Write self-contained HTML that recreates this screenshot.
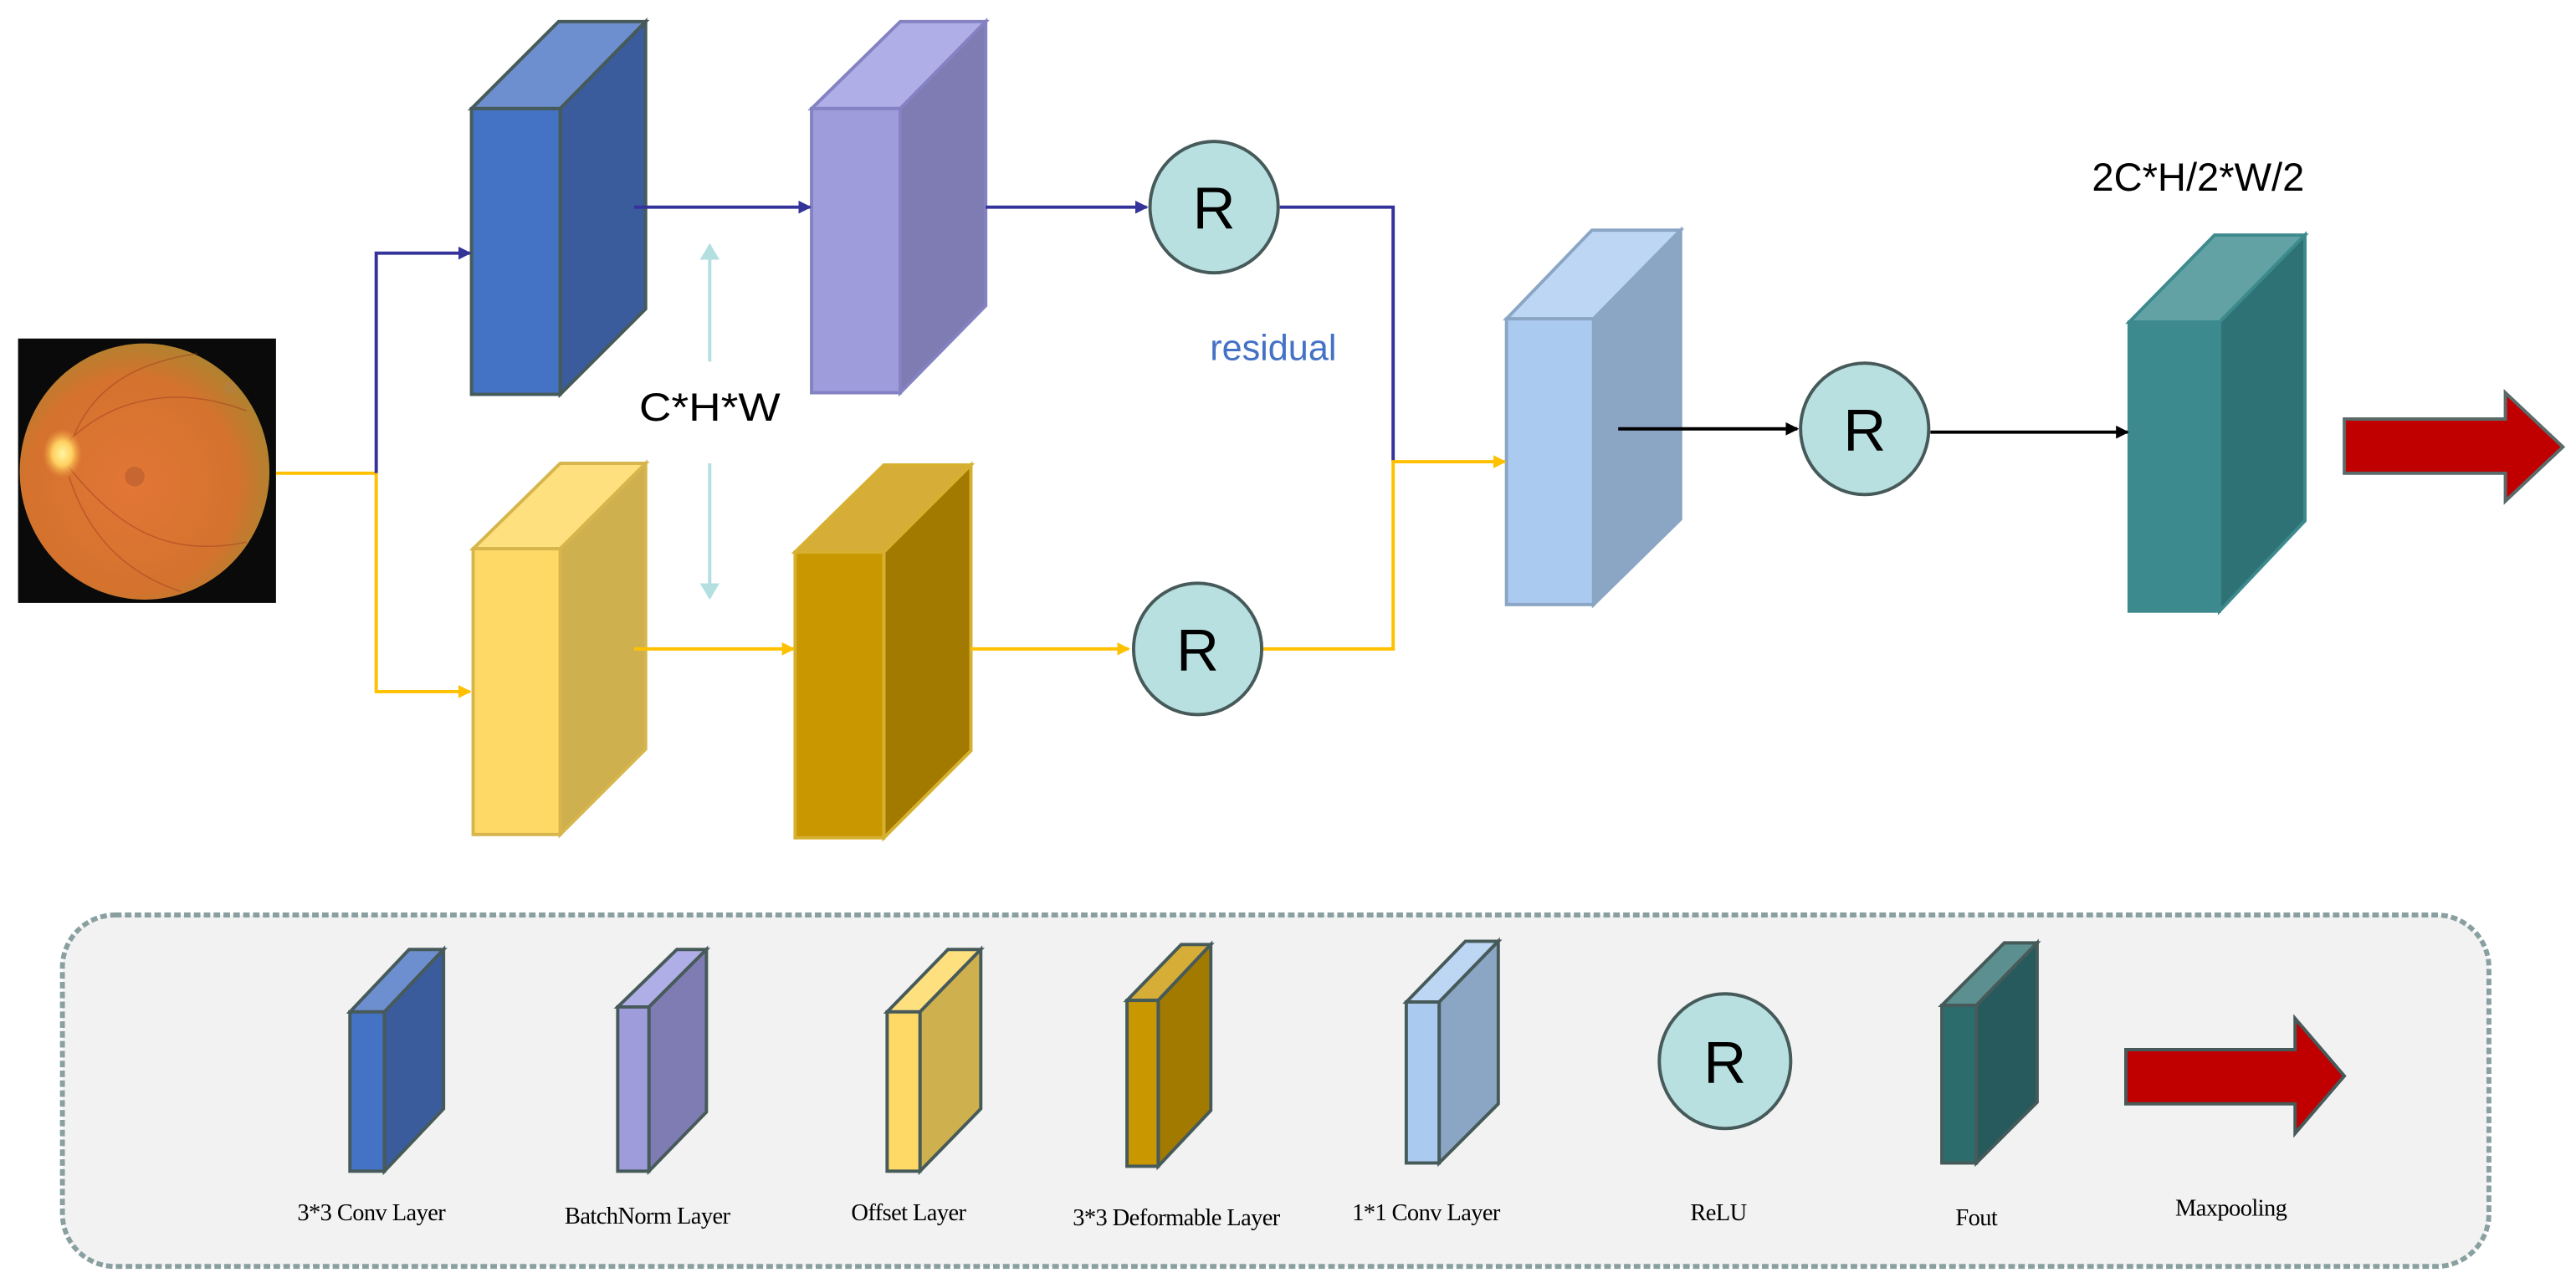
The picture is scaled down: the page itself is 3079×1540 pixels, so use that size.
<!DOCTYPE html>
<html><head><meta charset="utf-8"><style>html,body{margin:0;padding:0;background:#fff}svg{display:block}</style></head>
<body>
<svg width="3079" height="1540" viewBox="0 0 1568 784" xmlns="http://www.w3.org/2000/svg" font-family="Liberation Sans, sans-serif">
<defs>
<radialGradient id="eye" cx="0.45" cy="0.55" r="0.6">
<stop offset="0" stop-color="#e27636"/><stop offset="0.7" stop-color="#d4722e"/><stop offset="1" stop-color="#a8862f"/>
</radialGradient>
<radialGradient id="disc" cx="0.5" cy="0.5" r="0.5"><stop offset="0" stop-color="#fff6a0"/><stop offset="0.5" stop-color="#ffd060"/><stop offset="1" stop-color="#f0a040" stop-opacity="0"/></radialGradient>
<marker id="ab" markerWidth="8" markerHeight="8" refX="7" refY="4" orient="auto" markerUnits="userSpaceOnUse"><path d="M0,0 L8,4 L0,8z" fill="#33339a"/></marker>
<marker id="ay" markerWidth="8" markerHeight="8" refX="7" refY="4" orient="auto" markerUnits="userSpaceOnUse"><path d="M0,0 L8,4 L0,8z" fill="#FFC000"/></marker>
<marker id="ak" markerWidth="8" markerHeight="8" refX="7" refY="4" orient="auto" markerUnits="userSpaceOnUse"><path d="M0,0 L8,4 L0,8z" fill="#000"/></marker>
<marker id="al" markerWidth="10" markerHeight="12" refX="9" refY="6" orient="auto" markerUnits="userSpaceOnUse"><path d="M0,0 L10,6 L0,12z" fill="#b4dfe0"/></marker>
</defs>

<!-- fundus -->
<rect x="11" y="206" width="157" height="161" fill="#0a0a0a"/>
<ellipse cx="88" cy="287" rx="76" ry="78" fill="url(#eye)"/>
<circle cx="140" cy="236" r="4" fill="#b5803a"/>
<path d="M40,270 C70,240 110,235 150,250 M40,282 C70,320 100,340 150,330 M45,265 C60,230 90,220 120,215 M42,290 C55,330 80,350 110,360" stroke="#9a3a20" stroke-width="0.8" fill="none" opacity="0.45"/>
<ellipse cx="38" cy="276" rx="12" ry="15" fill="url(#disc)"/>
<circle cx="82" cy="290" r="6" fill="#a0502a" opacity="0.4"/>

<!-- blocks -->
<g stroke-width="2" stroke-linejoin="miter">
<polygon points="287,66 340,13 393,13 341,66" fill="#6D8FD0" stroke="#475a5a"/>
<polygon points="341,66 393,13 393,188 341,240" fill="#3A5B9C" stroke="#475a5a"/>
<rect x="287" y="66" width="54" height="174" fill="#4472C4" stroke="#475a5a"/>
<polygon points="494,66 548,13 600,13 548,66" fill="#B0AEE6" stroke="#8482C2"/>
<polygon points="548,66 600,13 600,186 548,239" fill="#7E7CB2" stroke="#8482C2"/>
<rect x="494" y="66" width="54" height="173" fill="#9E9CDB" stroke="#8482C2"/>
<polygon points="288,334 341,282 393,282 341,334" fill="#FFE07F" stroke="#D6B64C"/>
<polygon points="341,334 393,282 393,456 341,508" fill="#CFB04F" stroke="#D6B64C"/>
<rect x="288" y="334" width="53" height="174" fill="#FFD966" stroke="#D6B64C"/>
<polygon points="484,336 538,283 591,283 538,336" fill="#D6AD36" stroke="#D6B030"/>
<polygon points="538,336 591,283 591,457 538,510" fill="#A37A00" stroke="#D6B030"/>
<rect x="484" y="336" width="54" height="174" fill="#C99700" stroke="#D6B030"/>
<polygon points="917,194 969,140 1023,140 970,194" fill="#BCD6F3" stroke="#8AA6C4"/>
<polygon points="970,194 1023,140 1023,316 970,368" fill="#8AA6C4" stroke="#8AA6C4"/>
<rect x="917" y="194" width="53" height="174" fill="#ABCAF0" stroke="#8AA6C4"/>
<polygon points="1296,196 1348,143 1403,143 1351,196" fill="#62A2A5" stroke="#3d8a8e"/>
<polygon points="1351,196 1403,143 1403,317 1351,372" fill="#2F7275" stroke="#3d8a8e"/>
<rect x="1296" y="196" width="55" height="176" fill="#3D8A8E" stroke="#3d8a8e"/>
</g>

<!-- connectors -->
<g stroke-width="2" fill="none">
<path d="M168,288 H229" stroke="#FFC000"/>
<path d="M229,288 V154 H286" stroke="#33339a" marker-end="url(#ab)"/>
<path d="M229,288 V421 H286" stroke="#FFC000" marker-end="url(#ay)"/>
<path d="M386,126 H493" stroke="#33339a" marker-end="url(#ab)"/>
<path d="M600,126 H698" stroke="#33339a" marker-end="url(#ab)"/>
<path d="M779,126 H848 V281" stroke="#33339a"/>
<path d="M386,395 H483" stroke="#FFC000" marker-end="url(#ay)"/>
<path d="M591,395 H687" stroke="#FFC000" marker-end="url(#ay)"/>
<path d="M769,395 H848 V281 H916" stroke="#FFC000" marker-end="url(#ay)"/>
<path d="M985,261 H1094" stroke="#000" marker-end="url(#ak)"/>
<path d="M1175,263 H1295" stroke="#000" marker-end="url(#ak)"/>
<path d="M432,220 V149" stroke="#b4dfe0" marker-end="url(#al)"/>
<path d="M432,282 V364" stroke="#b4dfe0" marker-end="url(#al)"/>
</g>

<!-- R circles -->
<g fill="#B9E0E0" stroke="#475a5a" stroke-width="2">
<ellipse cx="739" cy="126" rx="39" ry="40"/>
<ellipse cx="729" cy="395" rx="39" ry="40"/>
<ellipse cx="1135" cy="261" rx="39" ry="40"/>
</g>
<g font-size="36" text-anchor="middle" fill="#000">
<text x="739" y="139">R</text>
<text x="729" y="408">R</text>
<text x="1135" y="274">R</text>
</g>

<text x="432" y="256" font-size="24" text-anchor="middle" textLength="86" lengthAdjust="spacingAndGlyphs">C*H*W</text>
<text x="775" y="219" font-size="22" text-anchor="middle" fill="#4472C4">residual</text>
<text x="1338" y="116" font-size="24" text-anchor="middle">2C*H/2*W/2</text>

<polygon points="1427,255 1525,255 1525,239 1560,272 1525,305 1525,288 1427,288" fill="#C00000" stroke="#5a6a6a" stroke-width="2"/>

<!-- legend -->
<rect x="38" y="557" width="1477" height="214" rx="32" fill="#f2f2f2" stroke="#8aa0a0" stroke-width="3" stroke-dasharray="4,2"/>
<g stroke="#475a5a" stroke-width="2">
<polygon points="213,616 249,578 270,578 234,616" fill="#6D8FD0"/><polygon points="234,616 270,578 270,675 234,713" fill="#3A5B9C"/><rect x="213" y="616" width="21" height="97" fill="#4472C4"/>
<polygon points="376,613 412,578 430,578 395,613" fill="#B0AEE6"/><polygon points="395,613 430,578 430,677 395,713" fill="#7E7CB2"/><rect x="376" y="613" width="19" height="100" fill="#9E9CDB"/>
<polygon points="540,616 577,578 597,578 560,616" fill="#FFE07F"/><polygon points="560,616 597,578 597,675 560,713" fill="#CFB04F"/><rect x="540" y="616" width="20" height="97" fill="#FFD966"/>
<polygon points="686,609 719,575 737,575 705,609" fill="#D6AD36"/><polygon points="705,609 737,575 737,676 705,710" fill="#A37A00"/><rect x="686" y="609" width="19" height="101" fill="#C99700"/>
<polygon points="856,610 892,573 912,573 876,610" fill="#BCD6F3"/><polygon points="876,610 912,573 912,672 876,708" fill="#8AA6C4"/><rect x="856" y="610" width="20" height="98" fill="#ABCAF0"/>
<polygon points="1182,612 1220,574 1240,574 1203,612" fill="#5C9090"/><polygon points="1203,612 1240,574 1240,671 1203,708" fill="#275A5C"/><rect x="1182" y="612" width="21" height="96" fill="#2D6C6C"/>
<ellipse cx="1050" cy="646" rx="40" ry="41" fill="#B9E0E0"/>
<polygon points="1294,639 1397,639 1397,620 1427,655 1397,690 1397,672 1294,672" fill="#C00000"/>
</g>
<text x="1050" y="659" font-size="36" text-anchor="middle">R</text>
<g font-family="Liberation Serif, serif" font-size="14.5" text-anchor="middle" fill="#000" letter-spacing="-0.3">
<text x="226" y="743">3*3 Conv Layer</text>
<text x="394" y="745">BatchNorm Layer</text>
<text x="553" y="743">Offset Layer</text>
<text x="716" y="746">3*3 Deformable  Layer</text>
<text x="868" y="743">1*1 Conv Layer</text>
<text x="1046" y="743">ReLU</text>
<text x="1203" y="746">Fout</text>
<text x="1358" y="740">Maxpooling</text>
</g>
</svg>
</body></html>
